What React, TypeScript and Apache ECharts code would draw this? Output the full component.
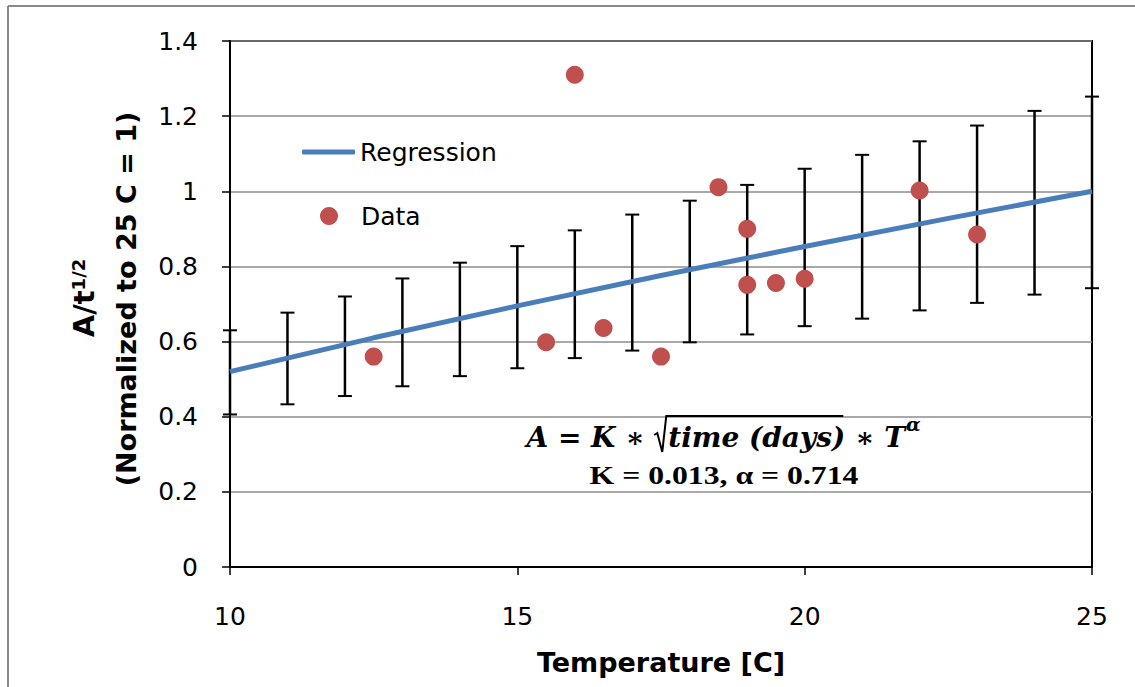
import React, { useEffect, useRef } from 'react';
import * as echarts from 'echarts';

// ---- data ----
const xTickValues = [10, 15, 20, 25];
const yTickValues = [0, 0.2, 0.4, 0.6, 0.8, 1, 1.2, 1.4];

const errT = [10, 11, 12, 13, 14, 15, 16, 17, 18, 19, 20, 21, 22, 23, 24, 25];
const errLow = [0.406, 0.433, 0.455, 0.481, 0.508, 0.529, 0.556, 0.576, 0.598, 0.619, 0.641, 0.661, 0.683, 0.703, 0.725, 0.742];
const errHigh = [0.63, 0.677, 0.72, 0.768, 0.81, 0.854, 0.896, 0.938, 0.975, 1.017, 1.06, 1.097, 1.133, 1.175, 1.214, 1.252];

const regT = [10, 12.5, 15, 17.5, 20, 22.5, 25];
const regV = [0.52, 0.61, 0.695, 0.776, 0.853, 0.928, 1.0];

const dataT = [12.5, 15.5, 16, 16.5, 17.5, 18.5, 19, 19, 19.5, 20, 22, 23];
const dataV = [0.56, 0.598, 1.31, 0.636, 0.56, 1.011, 0.9, 0.751, 0.756, 0.767, 1.002, 0.885];

const seriesNames = ['Regression', 'Data'];
const xTitle = 'Temperature [C]';
const yTitle1 = 'A/t';
const yTitleSup = '1/2';
const yTitle2 = '(Normalized to 25 C = 1)';
const eqPre = 'A = K ∗ ';
const eqRad = 'time (days)';
const eqPost = ' ∗ T';
const eqSup = 'α';
const eqLine2 = 'K = 0.013, α = 0.714';

const measure = (text: string, font: string): number => {
  const ctx = document.createElement('canvas').getContext('2d');
  if (!ctx) return text.length * 14;
  ctx.font = font;
  return ctx.measureText(text).width;
};

export default function App() {
  const ref = useRef<HTMLDivElement>(null);
  useEffect(() => {
    if (!ref.current) return;
    const chart = echarts.init(ref.current, undefined, { renderer: 'svg' });

    // Equation line 1 layout
    const eqFont = 'italic bold 28px "DejaVu Serif"';
    const supFont = 'italic bold 19px "DejaVu Serif"';
    const wPre = measure(eqPre, eqFont);
    const wRoot = 14;
    const wRad = measure(eqRad, eqFont);
    const wPost = measure(eqPost, eqFont);
    const wSup = measure(eqSup, supFont) + 2;
    const total = wPre + wRoot + wRad + wPost + wSup;
    const cx = 724;
    const base = 444;
    const xPre = cx - total / 2;
    const xRoot = xPre + wPre;
    const xRad = xRoot + wRoot;
    const xPost = xRad + wRad;
    const xSup = xPost + wPost + 1;
    const topY = 416;

    const eqText = (text: string, x: number, font: string, y: number) => ({
      type: 'text',
      x,
      y,
      z: 100,
      style: { text, font, fill: '#000', textAlign: 'left', textVerticalAlign: 'bottom' },
    });

    const legendText = { fontSize: 25, fontFamily: '"DejaVu Sans"', color: '#000' };

    const option: any = {
      animation: false,
      backgroundColor: '#fff',
      grid: {
        left: 230,
        right: 43,
        top: 41,
        bottom: 120,
        show: true,
        borderColor: '#000',
        borderWidth: 2,
        backgroundColor: 'transparent',
      },
      legend: [
        {
          data: [{ name: seriesNames[0], icon: 'roundRect' }],
          left: 302,
          top: 139.5,
          padding: 0,
          itemWidth: 53,
          itemHeight: 5,
          itemStyle: { color: '#4a7ebb', borderWidth: 0 },
          textStyle: legendText,
        },
        {
          data: [{ name: seriesNames[1], icon: 'circle' }],
          left: 320,
          top: 203.5,
          padding: 0,
          itemWidth: 18,
          itemHeight: 18,
          textStyle: { ...legendText, padding: [0, 0, 0, 18] },
        },
      ],
      xAxis: {
        type: 'value',
        min: xTickValues[0],
        max: xTickValues[xTickValues.length - 1],
        interval: 5,
        axisLine: { show: true, onZero: false, lineStyle: { color: '#000', width: 2 } },
        axisTick: { show: true, inside: false, length: 8, lineStyle: { color: '#000', width: 1.5 } },
        splitLine: { show: false },
        axisLabel: { fontSize: 25, fontFamily: '"DejaVu Sans"', color: '#000', margin: 37 },
        name: xTitle,
        nameLocation: 'middle',
        nameGap: 82,
        nameTextStyle: { fontSize: 27, fontWeight: 'bold', fontFamily: '"DejaVu Sans"', color: '#000' },
      },
      yAxis: {
        type: 'value',
        min: yTickValues[0],
        max: yTickValues[yTickValues.length - 1],
        interval: 0.2,
        axisLine: { show: true, onZero: false, lineStyle: { color: '#000', width: 2 } },
        axisTick: { show: true, inside: false, length: 8, lineStyle: { color: '#000', width: 1.5 } },
        splitLine: { show: true, lineStyle: { color: '#8c8c8c', width: 1.5 } },
        axisLabel: { fontSize: 25, fontFamily: '"DejaVu Sans"', color: '#000', margin: 32 },
      },
      series: [
        {
          name: 'errors',
          type: 'custom',
          clip: false,
          data: errT.map((t, i) => [t, errLow[i], errHigh[i]]),
          encode: { x: 0, y: [1, 2] },
          z: 2,
          renderItem: (params: any, api: any) => {
            const x = api.value(0);
            const lo = api.coord([x, api.value(1)]);
            const hi = api.coord([x, api.value(2)]);
            const hw = 7;
            const st = { stroke: '#000', lineWidth: 2 };
            return {
              type: 'group',
              children: [
                { type: 'line', shape: { x1: lo[0], y1: lo[1], x2: hi[0], y2: hi[1] }, style: { stroke: '#000', lineWidth: 2.5 } },
                { type: 'line', shape: { x1: lo[0] - hw, y1: lo[1], x2: lo[0] + hw, y2: lo[1] }, style: st },
                { type: 'line', shape: { x1: hi[0] - hw, y1: hi[1], x2: hi[0] + hw, y2: hi[1] }, style: st },
              ],
            };
          },
        },
        {
          name: seriesNames[0],
          type: 'line',
          data: regT.map((t, i) => [t, regV[i]]),
          symbol: 'none',
          showSymbol: false,
          z: 3,
          lineStyle: { color: '#4a7ebb', width: 5 },
          itemStyle: { color: '#4a7ebb' },
        },
        {
          name: seriesNames[1],
          type: 'scatter',
          data: dataT.map((t, i) => [t, dataV[i]]),
          symbol: 'circle',
          symbolSize: 18,
          z: 4,
          itemStyle: { color: '#c0504d', opacity: 1 },
        },
      ],
      graphic: [
        { type: 'line', shape: { x1: 8, y1: 6, x2: 1135, y2: 6 }, style: { stroke: '#8a8a8a', lineWidth: 2 } },
        { type: 'line', shape: { x1: 8, y1: 6, x2: 8, y2: 687 }, style: { stroke: '#8a8a8a', lineWidth: 2 } },
        {
          type: 'text',
          x: 84,
          y: 298,
          rotation: Math.PI / 2,
          style: {
            text: `{a|${yTitle1}}{s|${yTitleSup}}`,
            textAlign: 'center',
            textVerticalAlign: 'middle',
            rich: {
              a: { fontSize: 29, fontWeight: 'bold', fontFamily: '"DejaVu Sans"', fill: '#000', color: '#000' },
              s: { fontSize: 18, fontWeight: 'bold', fontFamily: '"DejaVu Sans"', fill: '#000', color: '#000', verticalAlign: 'top' },
            },
          },
        },
        {
          type: 'text',
          x: 126,
          y: 299,
          rotation: Math.PI / 2,
          style: {
            text: yTitle2,
            font: 'bold 27px "DejaVu Sans"',
            fill: '#000',
            textAlign: 'center',
            textVerticalAlign: 'middle',
          },
        },
        eqText(eqPre, xPre, eqFont, base + 7),
        eqText(eqRad, xRad, eqFont, base + 7),
        eqText(eqPost, xPost, eqFont, base + 7),
        eqText(eqSup, xSup, supFont, base - 11),
        {
          type: 'polyline',
          z: 100,
          shape: {
            points: [
              [xRoot, base - 9],
              [xRoot + 3, base - 11],
              [xRoot + 8, base + 8],
              [xRoot + 12, topY],
              [xPost - 2, topY],
            ],
          },
          style: { stroke: '#000', lineWidth: 2, fill: null },
        },
        {
          type: 'text',
          x: 724,
          y: 475,
          scaleX: 1.22,
          z: 100,
          style: {
            text: eqLine2,
            font: 'bold 26px "Liberation Serif"',
            fill: '#000',
            textAlign: 'center',
            textVerticalAlign: 'middle',
          },
        },
      ],
    };
    chart.setOption(option);
    return () => chart.dispose();
  }, []);
  return (
    <div
      ref={ref}
      style={{ position: 'absolute', left: 0, top: 0, width: 1135, height: 687, background: '#fff' }}
    />
  );
}
